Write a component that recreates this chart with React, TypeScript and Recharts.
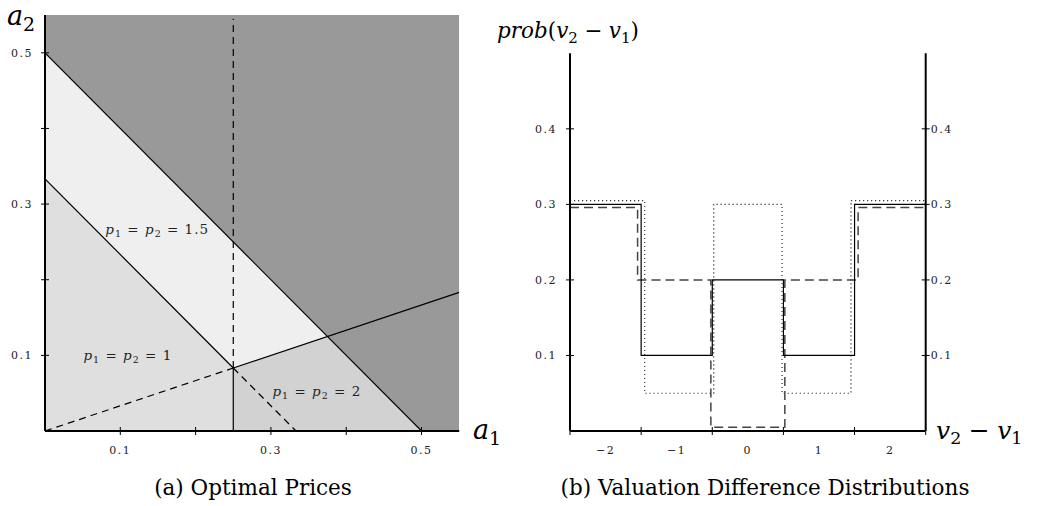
import React from 'react';
import { ComposedChart, LineChart, Line, Area, XAxis, YAxis, ReferenceDot } from 'recharts';

// ---- (a) optimal prices: shaded regions, one row per a1 break
const regionA1 = [0, 0.25, 0.375, 0.5, 0.55];
const outsideBand = [[0, 0.55], [0, 0.55], [0, 0.55], [0, 0.55], [0, 0.55]];
const band15 = [[0.3333, 0.5], [0.0833, 0.25], [0.125, 0.125], null, null];
const band1 = [[0, 0.3333], [0, 0.0833], null, null, null];
const band2 = [null, [0, 0.0833], [0, 0.125], [0, 0], null];

// boundary lines (a1, a2 pairs)
const outerLineA1 = [0, 0.5];
const outerLineA2 = [0.5, 0];
const innerLineA1 = [0, 0.25];
const innerLineA2 = [0.3333, 0.0833];
const splitLineA1 = [0.25, 0.55];
const splitLineA2 = [0.0833, 0.1833];
const cutLineA1 = [0.25, 0.25];
const cutLineA2 = [0, 0.0833];
// dashed continuations
const dashUpA1 = [0.25, 0.25];
const dashUpA2 = [0.0833, 0.545];
const dashRayA1 = [0, 0.25];
const dashRayA2 = [0, 0.0833];
const dashDiagA1 = [0.25, 0.3333];
const dashDiagA2 = [0.0833, 0];

const aTicks = [0.1, 0.2, 0.3, 0.4, 0.5];
const aLabeled = [0.1, 0.3, 0.5];

// region labels: position (a1, a2) and price
const labelA1 = [0.149, 0.11, 0.361];
const labelA2 = [0.266, 0.099, 0.052];
const labelPrice = ['1.5', '1', '2'];

// ---- (b) valuation difference distributions (step functions)
const solidV = [-2.5, -1.5, -0.5, 0.5, 1.5, 2.5];
const solidProb = [0.3, 0.1, 0.2, 0.1, 0.3, 0.3];
const dashedV = [-2.5, -1.55, -0.52, 0.52, 1.55, 2.5];
const dashedProb = [0.296, 0.2, 0.005, 0.2, 0.296, 0.296];
const dottedV = [-2.5, -1.45, -0.48, 0.48, 1.45, 2.5];
const dottedProb = [0.305, 0.05, 0.3, 0.05, 0.305, 0.305];

const vTicks = [-2.5, -2, -1.5, -1, -0.5, 0, 0.5, 1, 1.5, 2, 2.5];
const probTicks = [0.1, 0.2, 0.3, 0.4];

const pairs = (xs: number[], ys: number[], xk: string, yk: string) =>
  xs.map((x, i) => ({ [xk]: x, [yk]: ys[i] }));

const regionData = regionA1.map((a1, i) => ({
  a1,
  outside: outsideBand[i],
  b15: band15[i],
  b1: band1[i],
  b2: band2[i],
}));

const tickFont: React.CSSProperties = {
  fontFamily: 'DejaVu Serif',
  fontSize: 11,
  letterSpacing: 1.5,
  fill: '#222',
};

const AXIS = { stroke: '#000', strokeWidth: 2 };

const fmtTick = (v: number) => (v < 0 ? '\u2212' + Math.abs(v) : String(v));

const LeftXTick = (props: any) => {
  const { x, y, payload } = props;
  return (
    <g>
      <line x1={x} y1={y - 4} x2={x} y2={y + 4} stroke="#000" />
      {aLabeled.includes(payload.value) && (
        <text x={x} y={y + 23} textAnchor="middle" style={tickFont}>{payload.value}</text>
      )}
    </g>
  );
};

const LeftYTick = (props: any) => {
  const { x, y, payload } = props;
  return (
    <g>
      <line x1={x - 4} y1={y} x2={x + 4} y2={y} stroke="#000" />
      {aLabeled.includes(payload.value) && (
        <text x={x - 12} y={y + 4} textAnchor="end" style={tickFont}>{payload.value}</text>
      )}
    </g>
  );
};

const VTick = (props: any) => {
  const { x, y, payload } = props;
  const v = payload.value;
  const isMark = Math.abs(v % 1) === 0.5;
  return (
    <g>
      {isMark && <line x1={x} y1={y - 4} x2={x} y2={y + 4} stroke="#000" />}
      {!isMark && (
        <text x={x} y={y + 23} textAnchor="middle" style={tickFont}>{fmtTick(v)}</text>
      )}
    </g>
  );
};

const ProbTickLeft = (props: any) => {
  const { x, y, payload } = props;
  return (
    <g>
      <line x1={x - 4} y1={y} x2={x + 4} y2={y} stroke="#000" />
      <text x={x - 13} y={y + 4} textAnchor="end" style={tickFont}>{payload.value}</text>
    </g>
  );
};

const ProbTickRight = (props: any) => {
  const { x, y, payload } = props;
  return (
    <g>
      <line x1={x - 4} y1={y} x2={x + 4} y2={y} stroke="#000" />
      <text x={x + 5} y={y + 4} textAnchor="start" style={tickFont}>{payload.value}</text>
    </g>
  );
};

const RegionLabel = ({ viewBox, price }: any) => {
  const cx = viewBox.x + viewBox.width / 2;
  const cy = viewBox.y + viewBox.height / 2;
  return (
    <text
      x={cx}
      y={cy + 4}
      textAnchor="middle"
      fontFamily="DejaVu Serif"
      fontSize={13.5}
      fill="#222"
      style={{ whiteSpace: 'pre', letterSpacing: 1 }}
    >
      <tspan fontStyle="italic">p</tspan>
      <tspan fontSize={9.5} dy={3}>1</tspan>
      <tspan dy={-3}>{' = '}</tspan>
      <tspan fontStyle="italic">p</tspan>
      <tspan fontSize={9.5} dy={3}>2</tspan>
      <tspan dy={-3}>{' = ' + price}</tspan>
    </text>
  );
};

const mathText: React.CSSProperties = {
  position: 'absolute',
  fontFamily: 'DejaVu Serif',
  fontStyle: 'italic',
  color: '#000',
  whiteSpace: 'nowrap',
  lineHeight: 1,
};
const subStyle: React.CSSProperties = { fontStyle: 'normal', fontSize: '0.7em', verticalAlign: '-0.3em' };
const minusStyle: React.CSSProperties = { fontStyle: 'normal', margin: '0 0.3em' };
const captionStyle: React.CSSProperties = {
  position: 'absolute',
  fontFamily: 'DejaVu Serif',
  fontSize: 21.5,
  color: '#000',
  whiteSpace: 'nowrap',
  transform: 'translateX(-50%)',
  lineHeight: 1,
};

const PricesChart = () => (
  <ComposedChart
    width={480}
    height={470}
    data={regionData}
    margin={{ top: 15, right: 20.8, left: 5, bottom: 9 }}
  >
    <XAxis
      type="number"
      dataKey="a1"
      domain={[0, 0.55]}
      ticks={aTicks}
      allowDataOverflow
      tick={<LeftXTick />}
      tickLine={false}
      tickSize={0}
      tickMargin={0}
      axisLine={AXIS}
      height={30}
    />
    <YAxis
      type="number"
      domain={[0, 0.55]}
      ticks={aTicks}
      allowDataOverflow
      tick={<LeftYTick />}
      tickLine={false}
      tickSize={0}
      tickMargin={0}
      axisLine={AXIS}
      width={40}
    />
    <Area dataKey="outside" type="linear" fill="#999999" fillOpacity={1} stroke="none" isAnimationActive={false} />
    <Area dataKey="b15" type="linear" fill="#efefef" fillOpacity={1} stroke="none" isAnimationActive={false} />
    <Area dataKey="b1" type="linear" fill="#dfdfdf" fillOpacity={1} stroke="none" isAnimationActive={false} />
    <Area dataKey="b2" type="linear" fill="#d2d2d2" fillOpacity={1} stroke="none" isAnimationActive={false} />

    <Line data={pairs(outerLineA1, outerLineA2, 'a1', 'a2')} dataKey="a2" stroke="#000" strokeWidth={1.2} dot={false} isAnimationActive={false} />
    <Line data={pairs(innerLineA1, innerLineA2, 'a1', 'a2')} dataKey="a2" stroke="#000" strokeWidth={1.2} dot={false} isAnimationActive={false} />
    <Line data={pairs(splitLineA1, splitLineA2, 'a1', 'a2')} dataKey="a2" stroke="#000" strokeWidth={1.2} dot={false} isAnimationActive={false} />
    <Line data={pairs(cutLineA1, cutLineA2, 'a1', 'a2')} dataKey="a2" stroke="#000" strokeWidth={1.2} dot={false} isAnimationActive={false} />
    <Line data={pairs(dashUpA1, dashUpA2, 'a1', 'a2')} dataKey="a2" stroke="#000" strokeWidth={1.2} strokeDasharray="7 5" dot={false} isAnimationActive={false} />
    <Line data={pairs(dashRayA1, dashRayA2, 'a1', 'a2')} dataKey="a2" stroke="#000" strokeWidth={1.2} strokeDasharray="7 5" dot={false} isAnimationActive={false} />
    <Line data={pairs(dashDiagA1, dashDiagA2, 'a1', 'a2')} dataKey="a2" stroke="#000" strokeWidth={1.2} strokeDasharray="7 5" dot={false} isAnimationActive={false} />

    {labelPrice.map((price, i) => (
      <ReferenceDot
        key={price}
        x={labelA1[i]}
        y={labelA2[i]}
        r={0}
        fill="none"
        stroke="none"
        label={<RegionLabel price={price} />}
      />
    ))}
  </ComposedChart>
);

const DistChart = () => (
  <LineChart width={555} height={470} margin={{ top: 53.3, right: 59.3, left: 20, bottom: 9 }}>
    <XAxis
      type="number"
      dataKey="v"
      domain={[-2.5, 2.5]}
      ticks={vTicks}
      allowDataOverflow
      tick={<VTick />}
      tickLine={false}
      tickSize={0}
      tickMargin={0}
      axisLine={AXIS}
      height={30}
      interval={0}
    />
    <YAxis
      yAxisId="left"
      type="number"
      domain={[0, 0.5]}
      ticks={probTicks}
      allowDataOverflow
      tick={<ProbTickLeft />}
      tickLine={false}
      tickSize={0}
      tickMargin={0}
      axisLine={AXIS}
      width={60}
    />
    <YAxis
      yAxisId="right"
      orientation="right"
      type="number"
      domain={[0, 0.5]}
      ticks={probTicks}
      allowDataOverflow
      tick={<ProbTickRight />}
      tickLine={false}
      tickSize={0}
      tickMargin={0}
      axisLine={AXIS}
      width={60}
    />
    <Line yAxisId="left" data={pairs(dottedV, dottedProb, 'v', 'p')} dataKey="p" type="stepAfter" stroke="#333" strokeWidth={1.2} strokeDasharray="1.2 2.8" dot={false} isAnimationActive={false} />
    <Line yAxisId="left" data={pairs(dashedV, dashedProb, 'v', 'p')} dataKey="p" type="stepAfter" stroke="#444" strokeWidth={1.5} strokeDasharray="9 5" dot={false} isAnimationActive={false} />
    <Line yAxisId="left" data={pairs(solidV, solidProb, 'v', 'p')} dataKey="p" type="stepAfter" stroke="#000" strokeWidth={1.2} dot={false} isAnimationActive={false} />
  </LineChart>
);

export default function App() {
  return (
    <div style={{ position: 'absolute', left: 0, top: 0, width: 1045, height: 506, background: '#fff', overflow: 'hidden' }}>
      <div style={{ position: 'absolute', left: 0, top: 0 }}>
        <PricesChart />
      </div>
      <div style={{ position: 'absolute', left: 490, top: 0 }}>
        <DistChart />
      </div>

      <div style={{ ...mathText, left: 7, top: 2, fontSize: 27 }}>
        a<span style={subStyle}>2</span>
      </div>
      <div style={{ ...mathText, left: 473, top: 416, fontSize: 27 }}>
        a<span style={subStyle}>1</span>
      </div>
      <div style={{ ...mathText, left: 497, top: 20, fontSize: 21.5 }}>
        prob<span style={{ fontStyle: 'normal' }}>(</span>v<span style={subStyle}>2</span>
        <span style={minusStyle}>{'\u2212'}</span>v<span style={subStyle}>1</span>
        <span style={{ fontStyle: 'normal' }}>)</span>
      </div>
      <div style={{ ...mathText, left: 936, top: 418, fontSize: 25 }}>
        v<span style={subStyle}>2</span>
        <span style={minusStyle}>{'\u2212'}</span>v<span style={subStyle}>1</span>
      </div>

      <div style={{ ...captionStyle, left: 253, top: 477 }}>(a) Optimal Prices</div>
      <div style={{ ...captionStyle, left: 765, top: 477 }}>(b) Valuation Difference Distributions</div>
    </div>
  );
}
